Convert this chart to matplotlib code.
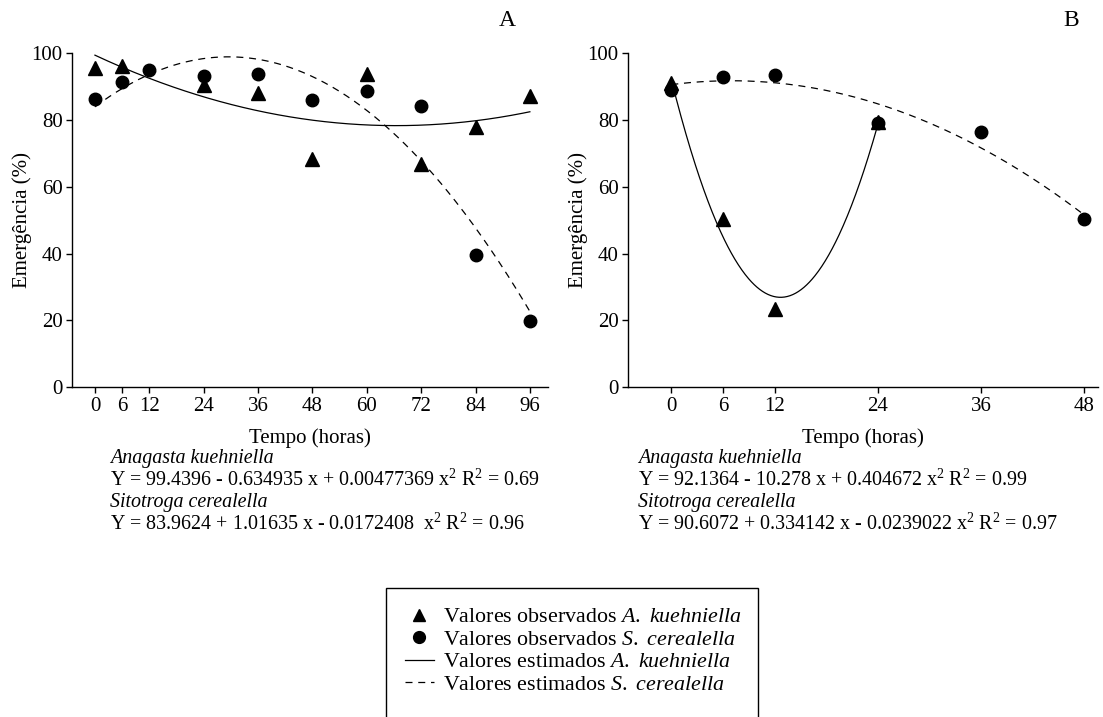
import numpy as np
import matplotlib
matplotlib.use("Agg")
import matplotlib.pyplot as plt
from matplotlib.lines import Line2D
from matplotlib.patches import Rectangle
from matplotlib.legend_handler import HandlerLine2D

plt.rcParams['font.family'] = ['Liberation Serif', 'DejaVu Serif']
plt.rcParams['mathtext.fontset'] = 'custom'
plt.rcParams['mathtext.rm'] = 'Liberation Serif'
plt.rcParams['mathtext.it'] = 'Liberation Serif:italic'

# ---- data ----
# Panel A
a_tempo_ak = [0, 6, 24, 36, 48, 60, 72, 84, 96]
a_ak = [95.6, 96.2, 90.6, 88.0, 68.3, 93.8, 66.8, 78.0, 87.3]
a_tempo_sc = [0, 6, 12, 24, 36, 48, 60, 72, 84, 96]
a_sc = [86.3, 91.5, 95.0, 93.3, 93.9, 85.9, 88.8, 84.1, 39.7, 19.8]
a_coef_ak = [99.4396, -0.634935, 0.00477369]
a_coef_sc = [83.9624, 1.01635, -0.0172408]
a_xticks = [0, 6, 12, 24, 36, 48, 60, 72, 84, 96]

# Panel B
b_tempo_ak = [0, 6, 12, 24]
b_ak = [91.1, 50.4, 23.4, 79.5]
b_tempo_sc = [0, 6, 12, 24, 36, 48]
b_sc = [89.1, 93.0, 93.5, 79.0, 76.5, 50.2]
b_coef_ak = [92.1364, -10.278, 0.404672]
b_coef_sc = [90.6072, 0.334142, -0.0239022]
b_xticks = [0, 6, 12, 24, 36, 48]

yticks = [0, 20, 40, 60, 80, 100]

W, H = 1103, 717
fig = plt.figure(figsize=(W/100, H/100), dpi=100)

DASH = (0, (5.6, 4.6))


def quad(c, x):
    return c[0] + c[1]*x + c[2]*x**2


def panel(rect, xlim, xticks, tak, yak, tsc, ysc, cak, csc, xmax_ak, xmax_sc, label, label_x):
    ax = fig.add_axes(rect)
    xs = np.linspace(0, xmax_ak, 300)
    ax.plot(xs, quad(cak, xs), color='black', lw=0.9, zorder=2)
    xs2 = np.linspace(0, xmax_sc, 300)
    ax.plot(xs2, quad(csc, xs2), color='black', lw=0.9, ls=DASH, zorder=2)
    ax.plot(tak, yak, ls='none', marker='^', ms=9.5, color='black', zorder=3, clip_on=False)
    ax.plot(tsc, ysc, ls='none', marker='o', ms=9, color='black', zorder=4, clip_on=False)
    ax.set_xlim(*xlim)
    ax.set_ylim(0, 100)
    ax.set_xticks(xticks)
    ax.set_yticks(yticks)
    for s in ['top', 'right']:
        ax.spines[s].set_visible(False)
    for s in ['left', 'bottom']:
        ax.spines[s].set_linewidth(1.0)
    ax.tick_params(axis='both', direction='out', length=4, width=1.0,
                   labelsize=15, pad=3)
    ax.set_xlabel('Tempo (horas)', fontsize=15, labelpad=9)
    ax.set_ylabel('Emergência (%)', fontsize=15, labelpad=-0.5)
    ax.patch.set_visible(False)
    fig.text(label_x/W, 1 - 21/H, label, fontsize=17, ha='center', va='center')
    return ax


axA = panel([72.3/W, 1 - 387/H, (548 - 72.3)/W, (387 - 53.3)/H], (-5, 100), a_xticks,
            a_tempo_ak, a_ak, a_tempo_sc, a_sc, a_coef_ak, a_coef_sc, 96, 96, 'A', 507)
axB = panel([628.3/W, 1 - 387/H, (1098 - 628.3)/W, (387 - 53.3)/H], (-5, 49.6), b_xticks,
            b_tempo_ak, b_ak, b_tempo_sc, b_sc, b_coef_ak, b_coef_sc, 24, 48, 'B', 1071)

# equations
eq_fs = 14.4
def eqblock(x, lines):
    ys = [459, 480, 503, 524]
    for (txt, it), y in zip(lines, ys):
        fig.text(x/W, 1 - y/H, txt, fontsize=eq_fs, ha='left', va='center',
                 style='italic' if it else 'normal')

eqblock(110, [('Anagasta kuehniella', True),
              (r'Y = 99.4396 - 0.634935 x + 0.00477369 x$^2$ R$^2$ = 0.69', False),
              ('Sitotroga cerealella', True),
              (r'Y = 83.9624 + 1.01635 x - 0.0172408  x$^2$ R$^2$ = 0.96', False)])
eqblock(638, [('Anagasta kuehniella', True),
              (r'Y = 92.1364 - 10.278 x + 0.404672 x$^2$ R$^2$ = 0.99', False),
              ('Sitotroga cerealella', True),
              (r'Y = 90.6072 + 0.334142 x - 0.0239022 x$^2$ R$^2$ = 0.97', False)])


class RightMarkerHandler(HandlerLine2D):
    def get_xdata(self, legend, xdescent, ydescent, width, height, fontsize):
        xdata = [-xdescent, -xdescent + width]
        xdata_marker = [-xdescent + width + 0.1 * fontsize]
        return xdata, xdata_marker


handles = [
    Line2D([], [], ls='none', marker='^', ms=8.5, color='black'),
    Line2D([], [], ls='none', marker='o', ms=8.5, color='black'),
    Line2D([], [], color='black', lw=0.9),
    Line2D([], [], color='black', lw=0.9, ls=DASH),
]
labels = [r'Valores observados $\mathit{A.}$ $\mathit{kuehniella}$',
          r'Valores observados $\mathit{S.}$ $\mathit{cerealella}$',
          r'Valores estimados $\mathit{A.}$ $\mathit{kuehniella}$',
          r'Valores estimados $\mathit{S.}$ $\mathit{cerealella}$']
leg = fig.legend(handles, labels, loc='upper left',
                 bbox_to_anchor=(405/W, 1 - 607/H), fontsize=15.8,
                 frameon=False, handler_map={Line2D: RightMarkerHandler()},
                 handlelength=1.3, handletextpad=0.45, labelspacing=0.1,
                 borderpad=0, borderaxespad=0)

# legend frame (extends below the figure bottom as in the reference)
fig.patches.append(Rectangle((385.7/W, -0.05), (758 - 385.7)/W, 0.05 + (717 - 588)/H,
                             transform=fig.transFigure, fill=False,
                             edgecolor='black', lw=1.0))

fig.savefig('out.png', dpi=100)
